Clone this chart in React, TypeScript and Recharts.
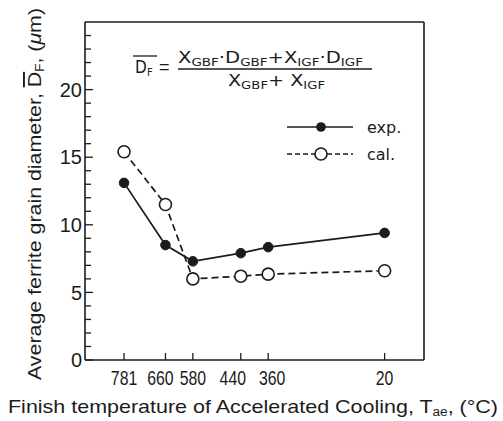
import React from 'react';
import { LineChart, Line, XAxis, YAxis, ReferenceLine, Legend } from 'recharts';

// finish temperature of accelerated cooling (deg C)
const temps = [781, 660, 580, 440, 360, 20];
const expValues = [13.1, 8.5, 7.3, 7.9, 8.35, 9.4];
const calValues = [15.4, 11.5, 6.0, 6.2, 6.35, 6.6];

const yTicks = [0, 1, 2, 3, 4, 5, 6, 7, 8, 9, 10, 11, 12, 13, 14, 15, 16, 17, 18, 19, 20, 21, 22, 23, 24];
const yLabelTicks = [0, 5, 10, 15, 20];
const xDomain = [-95, 895];
const yDomain = [0, 25];

const data = temps.map((t, i) => ({ temp: t, exp: expValues[i], cal: calValues[i] }));

const INK = '#1c1c1c';
const SANS = "'Liberation Sans', Arial, sans-serif";
const NARROW = "'Liberation Sans Narrow', 'DejaVu Sans Condensed', 'Liberation Sans', sans-serif";

// crowded labels are pushed apart a little, like in the print
const labelNudge: Record<number, number> = { 660: -5, 440: -8, 360: 4 };

const YTick = (props: any) => {
    const { x, y, payload } = props;
    const major = payload.value % 5 === 0;
    return (
        <g>
            <line x1={x} x2={x + (major ? 8 : 6)} y1={y} y2={y} stroke={INK} strokeWidth={1.3} />
            {yLabelTicks.includes(payload.value) && (
                <text x={x - 3} y={y} dy="0.36em" textAnchor="end" fontFamily={SANS} fontSize={20} fill={INK}>
                    {payload.value}
                </text>
            )}
        </g>
    );
};

const XTick = (props: any) => {
    const { x, y, payload } = props;
    const label = String(payload.value);
    const nudge = labelNudge[payload.value] || 0;
    return (
        <g>
            <line x1={x} x2={x} y1={y} y2={y - 7} stroke={INK} strokeWidth={1.3} />
            <text x={x + nudge} y={y + 25} textAnchor="middle" fontFamily={SANS} fontSize={20} fill={INK}
                textLength={label.length * 8.8} lengthAdjust="spacingAndGlyphs">
                {label}
            </text>
        </g>
    );
};

const OpenDot = (props: any) => {
    const { cx, cy } = props;
    return <circle cx={cx} cy={cy} r={6} fill="#fff" stroke={INK} strokeWidth={1.6} />;
};

const FilledDot = (props: any) => {
    const { cx, cy } = props;
    return <circle cx={cx} cy={cy} r={4.8} fill={INK} stroke={INK} strokeWidth={1} />;
};

const LegendBox = () => (
    <svg width={130} height={60}>
        <line x1={7} x2={73} y1={12} y2={12} stroke={INK} strokeWidth={1.7} />
        <circle cx={41} cy={12} r={4.8} fill={INK} />
        <text x={87} y={18} fontFamily="'DejaVu Sans', sans-serif" fontSize={16} fill={INK}>exp.</text>
        <line x1={7} x2={73} y1={39} y2={39} stroke={INK} strokeWidth={1.7} strokeDasharray="5 3" />
        <circle cx={41} cy={39} r={6} fill="#fff" stroke={INK} strokeWidth={1.6} />
        <text x={87} y={45} fontFamily="'DejaVu Sans', sans-serif" fontSize={16} fill={INK}>cal.</text>
    </svg>
);

// pieces of the formula: [text, subscript?]
const numerator: [string, boolean][] = [
    ['X', false], ['GBF', true], ['·', false], ['D', false], ['GBF', true],
    ['+', false], ['X', false], ['IGF', true], ['·', false], ['D', false], ['IGF', true],
];
const denominator: [string, boolean][] = [['X', false], ['GBF', true], ['+ ', false], ['X', false], ['IGF', true]];

const renderParts = (parts: [string, boolean][]) => {
    let shifted = false;
    return parts.map(([txt, sub], i) => {
        let dy = 0;
        if (sub && !shifted) { dy = 3; shifted = true; }
        else if (!sub && shifted) { dy = -3; shifted = false; }
        return (
            <tspan key={i} dy={dy} fontSize={sub ? 11 : 16}>{txt}</tspan>
        );
    });
};

const App: React.FC = () => {
    return (
        <div style={{ position: 'absolute', left: 0, top: 0, width: 503, height: 421, background: '#fff' }}>
            <LineChart width={503} height={421} data={data} margin={{ top: 22, right: 79, bottom: 31, left: 45 }}>
                <XAxis
                    dataKey="temp"
                    type="number"
                    domain={xDomain}
                    reversed
                    ticks={temps}
                    tick={<XTick />}
                    tickSize={0}
                    tickMargin={0}
                    height={30}
                    stroke={INK}
                    strokeWidth={1.6}
                    interval={0}
                />
                <YAxis
                    type="number"
                    domain={yDomain}
                    ticks={yTicks}
                    tick={<YTick />}
                    tickSize={0}
                    tickMargin={0}
                    width={40}
                    stroke={INK}
                    strokeWidth={1.6}
                    interval={0}
                />
                <ReferenceLine y={25} stroke={INK} strokeWidth={1.6} />
                <ReferenceLine x={-95} stroke={INK} strokeWidth={1.6} />
                <Line dataKey="cal" stroke={INK} strokeWidth={1.7} strokeDasharray="7 4"
                    dot={<OpenDot />} isAnimationActive={false} />
                <Line dataKey="exp" stroke={INK} strokeWidth={1.7}
                    dot={<FilledDot />} isAnimationActive={false} />
                <Legend layout="vertical" align="center" verticalAlign="middle" content={<LegendBox />}
                    wrapperStyle={{ left: 280, top: 115, width: 130, height: 60 }} />
            </LineChart>
            <svg width={503} height={421} style={{ position: 'absolute', left: 0, top: 0, pointerEvents: 'none' }}>
                {/* formula */}
                <line x1={133} x2={157} y1={56} y2={56} stroke={INK} strokeWidth={1.3} />
                <text x={135} y={73} fontFamily={NARROW} fontSize={17} fill={INK}>D</text>
                <text x={147} y={76} fontFamily={NARROW} fontSize={11} fill={INK}>F</text>
                <text x={159} y={73} fontFamily={SANS} fontSize={18} fill={INK}>=</text>
                <text x={178} y={63} fontFamily={NARROW} fill={INK} textLength={185} lengthAdjust="spacingAndGlyphs">
                    {renderParts(numerator)}
                </text>
                <line x1={178} x2={372} y1={69} y2={69} stroke={INK} strokeWidth={1.3} />
                <text x={228} y={86} fontFamily={NARROW} fill={INK} textLength={97} lengthAdjust="spacingAndGlyphs">
                    {renderParts(denominator)}
                </text>
                {/* axis titles */}
                <text x={8} y={413} fontFamily={SANS} fontSize={19} fill={INK} textLength={490} lengthAdjust="spacingAndGlyphs">
                    Finish temperature of Accelerated Cooling, T<tspan fontSize={12} dy={3}>ae</tspan><tspan dy={-3}>, (°C)</tspan>
                </text>
                <text x={41} y={194} transform="rotate(-90 41 194)" textAnchor="middle" fontFamily={SANS} fontSize={19}
                    fill={INK} textLength={372} lengthAdjust="spacingAndGlyphs">
                    Average ferrite grain diameter, <tspan textDecoration="overline">D</tspan><tspan fontSize={12} dy={3}>F</tspan><tspan dy={-3}>, (</tspan><tspan fontStyle="italic">μ</tspan>m)
                </text>
            </svg>
        </div>
    );
};

export default App;
